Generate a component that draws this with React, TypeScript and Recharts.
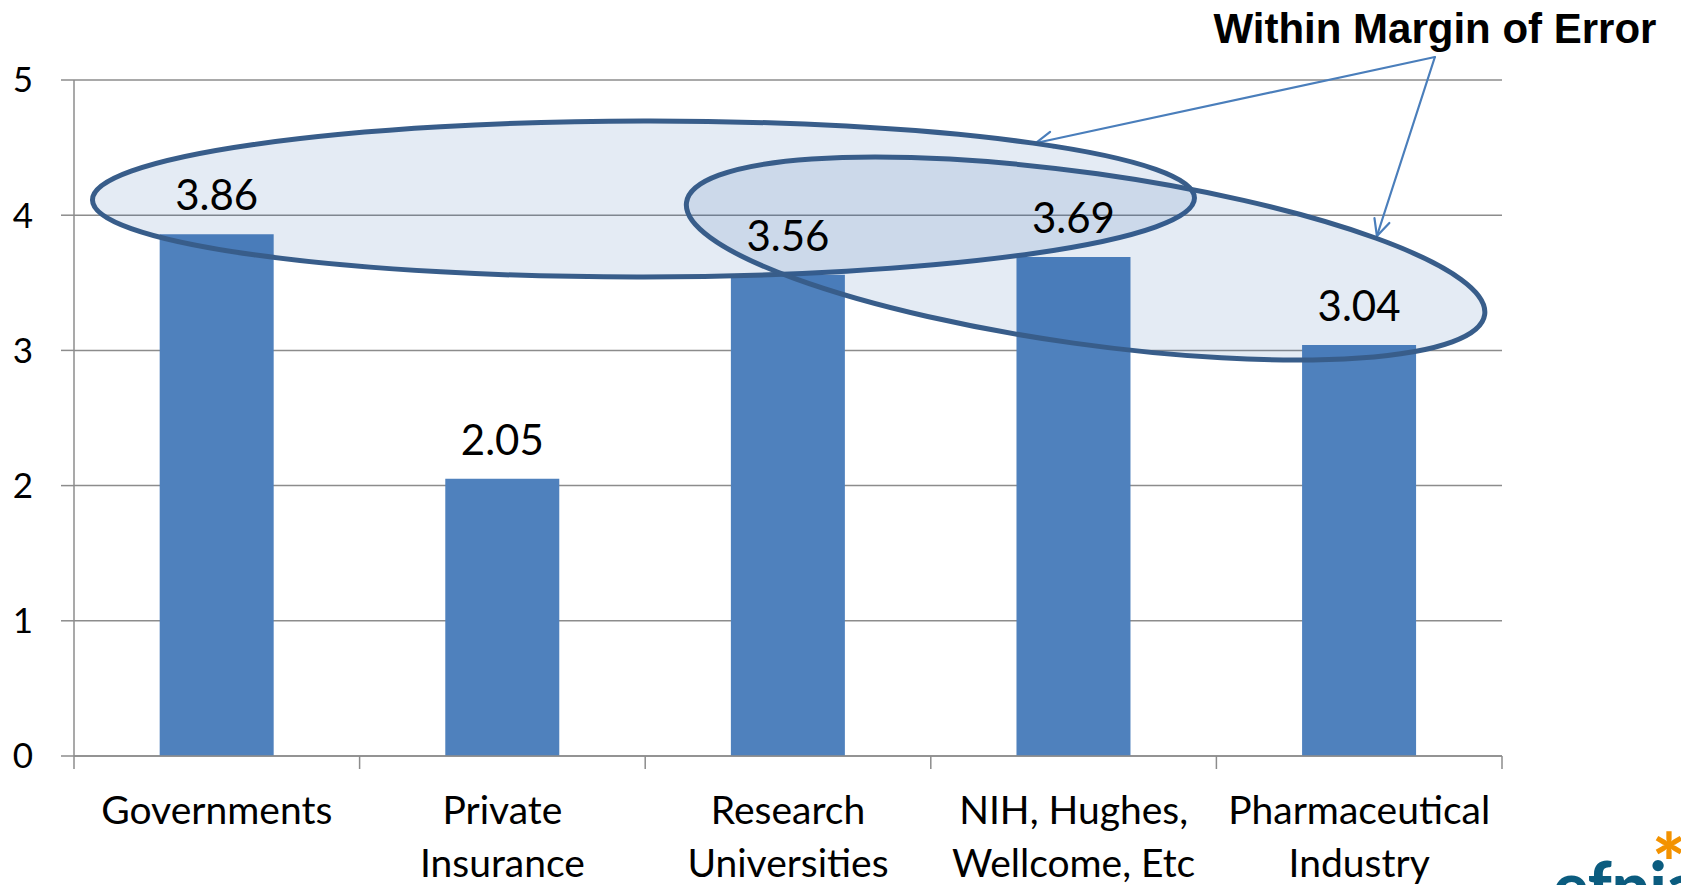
import React from "react";
import {
  BarChart,
  Bar,
  XAxis,
  YAxis,
  CartesianGrid,
  LabelList,
  ReferenceDot,
  ReferenceLine,
} from "recharts";

// categories (two-line labels) and scores
const categories = [
  ["Governments", ""],
  ["Private", "Insurance"],
  ["Research", "Universities"],
  ["NIH, Hughes,", "Wellcome, Etc"],
  ["Pharmaceutical", "Industry"],
];
const scores = [3.86, 2.05, 3.56, 3.69, 3.04];
const yTicks = [0, 1, 2, 3, 4, 5];
const noteText = "Within Margin of Error";

const data = categories.map((c, i) => ({
  name: c.join("\n"),
  value: scores[i],
}));

// layout
const W = 1681;
const H = 885;
const LEFT = 74;
const RIGHT = 179;
const TOP = 80;
const AXIS_H = 129;
const BAND = (W - LEFT - RIGHT) / categories.length;

const GRID = "#8c8c8c";
const BAR = "#4F81BD";
const RING = "#385D8A";
const ARROW = "#4A7EBB";
const FONT = "Lato, 'Open Sans', sans-serif";

// annotation ellipses; x is measured in category slots (slot i spans i..i+1)
const ring1 = { x: 1.994, y: 4.12, rx: 551, ry: 78, angle: -0.1 };
const ring2 = { x: 3.542, y: 3.68, rx: 403, ry: 85.5, angle: 8 };

// arrows from the note to each ellipse
const arrowFrom = { x: 4.765, y: 5.17 };
const arrowTo1 = { x: 3.368, y: 4.534 };
const arrowTo2 = { x: 4.562, y: 3.846 };

// nearest category plus the pixel shift from its centre
const slot = (pos: number) => {
  const i = Math.min(categories.length - 1, Math.max(0, Math.floor(pos)));
  return { name: data[i].name, dx: (pos - i - 0.5) * BAND };
};

const ellipseShape = (r: typeof ring1) => (p: any) => {
  const cx = p.cx + slot(r.x).dx;
  return (
    <ellipse
      cx={cx}
      cy={p.cy}
      rx={r.rx}
      ry={r.ry}
      transform={`rotate(${r.angle} ${cx} ${p.cy})`}
      fill="#1F5AA8"
      fillOpacity={0.12}
      stroke={RING}
      strokeWidth={5}
    />
  );
};

const arrowShape = (from: typeof arrowFrom, to: typeof arrowFrom) => (p: any) => {
  const x1 = p.x1 + slot(from.x).dx;
  const x2 = p.x2 + slot(to.x).dx;
  const { y1, y2 } = p;
  const a = Math.atan2(y2 - y1, x2 - x1);
  const len = 18;
  const spread = 0.45;
  const h1x = x2 - len * Math.cos(a - spread);
  const h1y = y2 - len * Math.sin(a - spread);
  const h2x = x2 - len * Math.cos(a + spread);
  const h2y = y2 - len * Math.sin(a + spread);
  return (
    <g stroke={ARROW} strokeWidth={2.2} fill="none" strokeLinecap="round">
      <line x1={x1} y1={y1} x2={x2} y2={y2} />
      <polyline points={`${h1x},${h1y} ${x2},${y2} ${h2x},${h2y}`} />
    </g>
  );
};

const CategoryTick = (props: any) => {
  const { x, y, payload, index } = props;
  const lines = String(payload.value).split("\n");
  return (
    <g>
      <line x1={x - BAND / 2} y1={y} x2={x - BAND / 2} y2={y + 13} stroke={GRID} strokeWidth={1.5} />
      {index === categories.length - 1 && (
        <line x1={x + BAND / 2} y1={y} x2={x + BAND / 2} y2={y + 13} stroke={GRID} strokeWidth={1.5} />
      )}
      {lines.map((t, i) => (
        <text
          key={i}
          x={x}
          y={y + 68 + i * 53}
          textAnchor="middle"
          fontFamily={FONT}
          fontSize={39}
          fill="#000"
        >
          {t}
        </text>
      ))}
    </g>
  );
};

const ValueLabel = (props: any) => {
  const { x, y, width, value } = props;
  return (
    <text
      x={x + width / 2}
      y={y - 24}
      textAnchor="middle"
      fontFamily={FONT}
      fontSize={42}
      fill="#000"
    >
      {value}
    </text>
  );
};

export default function App() {
  return (
    <div style={{ position: "absolute", left: 0, top: 0, width: W, height: H, background: "#fff", overflow: "hidden" }}>
      <BarChart
        width={W}
        height={H}
        data={data}
        margin={{ top: TOP, right: RIGHT, bottom: 0, left: 0 }}
        barCategoryGap="30%"
      >
        <CartesianGrid vertical={false} stroke={GRID} strokeWidth={1.5} />
        <XAxis
          dataKey="name"
          height={AXIS_H}
          interval={0}
          tickLine={false}
          tickSize={0}
          tickMargin={0}
          axisLine={{ stroke: GRID, strokeWidth: 1.5 }}
          tick={<CategoryTick />}
        />
        <YAxis
          width={LEFT}
          domain={[0, 5]}
          ticks={yTicks}
          tickSize={13}
          tickMargin={28}
          tickLine={{ stroke: GRID, strokeWidth: 1.5 }}
          axisLine={{ stroke: GRID, strokeWidth: 1.5 }}
          tick={{ fontFamily: FONT, fontSize: 35, fill: "#000" }}
        />
        <Bar dataKey="value" fill={BAR} isAnimationActive={false}>
          <LabelList dataKey="value" content={<ValueLabel />} />
        </Bar>
        <ReferenceDot
          x={slot(ring1.x).name}
          y={ring1.y}
          r={1}
          ifOverflow="visible"
          shape={ellipseShape(ring1)}
        />
        <ReferenceDot
          x={slot(ring2.x).name}
          y={ring2.y}
          r={1}
          ifOverflow="visible"
          shape={ellipseShape(ring2)}
        />
        <ReferenceLine
          ifOverflow="visible"
          segment={[
            { x: slot(arrowFrom.x).name, y: arrowFrom.y },
            { x: slot(arrowTo1.x).name, y: arrowTo1.y },
          ]}
          shape={arrowShape(arrowFrom, arrowTo1)}
        />
        <ReferenceLine
          ifOverflow="visible"
          segment={[
            { x: slot(arrowFrom.x).name, y: arrowFrom.y },
            { x: slot(arrowTo2.x).name, y: arrowTo2.y },
          ]}
          shape={arrowShape(arrowFrom, arrowTo2)}
        />
      </BarChart>

      <svg
        width={W}
        height={H}
        style={{ position: "absolute", left: 0, top: 0, pointerEvents: "none" }}
      >
        <text
          x={1435}
          y={43}
          textAnchor="middle"
          fontFamily="'Liberation Sans', Arial, sans-serif"
          fontWeight="bold"
          fontSize={42}
          fill="#000"
        >
          {noteText}
        </text>
        <text x={1553} y={910} fontFamily={FONT} fontWeight={900} fontSize={66} fill="#0B5C7F">
          efpia
        </text>
        <text x={1652} y={892} fontFamily={FONT} fontWeight={900} fontSize={80} fill="#F39200">
          *
        </text>
      </svg>
    </div>
  );
}
